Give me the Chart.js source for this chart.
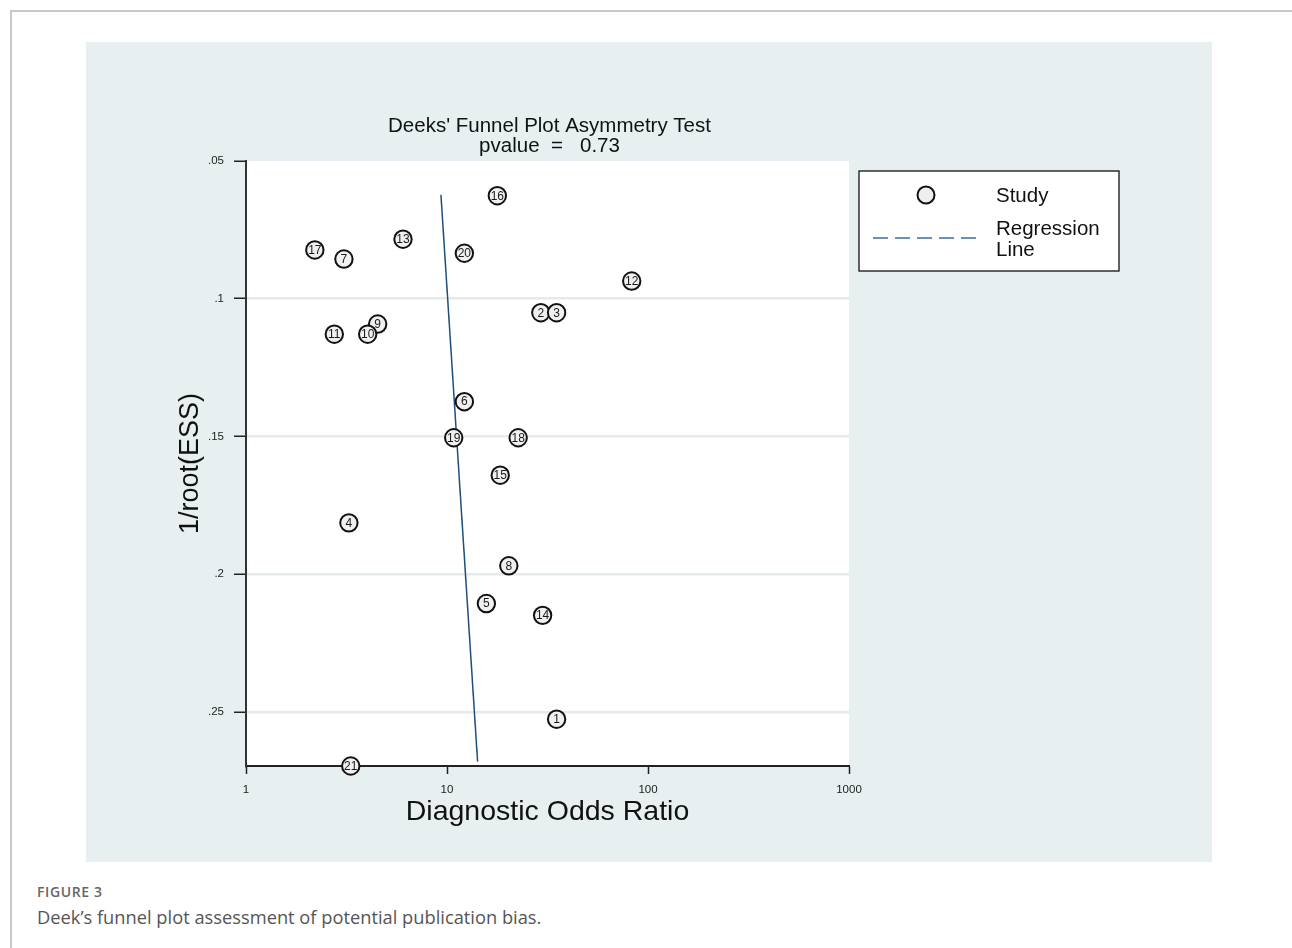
<!DOCTYPE html>
<html>
<head>
<meta charset="utf-8">
<script src="https://cdn.jsdelivr.net/npm/chart.js@4.4.1/dist/chart.umd.min.js"></script>
<style>
    body { margin: 0; background: #fff; width: 1292px; height: 948px; overflow: hidden; position: relative; }
    .card { position: absolute; left: 10px; top: 10px; width: 1400px; height: 1000px; border-top: 2px solid #c8c8c8; border-left: 2px solid #c8c8c8; }
    .panel { position: absolute; left: 86px; top: 42px; width: 1126px; height: 820px; background: #e8eff1; }
    .fig-label { position: absolute; left: 37px; top: 882px; font: 600 14px "Open Sans", sans-serif; letter-spacing: 0.6px; color: #666; }
    .fig-caption { position: absolute; left: 37px; top: 904px; font: 18.3px "Open Sans", sans-serif; color: #555; }
</style>
</head>
<body>
<div class="card"></div>
<div class="panel"><canvas id="funnel"></canvas></div>
<div class="fig-label">FIGURE 3</div>
<div class="fig-caption">Deek’s funnel plot assessment of potential publication bias.</div>

<script>
// study points
var studyIds = ["16", "17", "7", "13", "20", "12", "2", "3", "9", "11", "10", "6", "19", "18", "15", "4", "8", "5", "14", "1", "21"];
var oddsRatios = [17.8, 2.2, 3.07, 6.04, 12.2, 83, 29.3, 35.1, 4.52, 2.75, 4.03, 12.2, 10.8, 22.6, 18.4, 3.25, 20.3, 15.7, 29.9, 35.1, 3.32];
var invRootEss = [0.0626, 0.0823, 0.0856, 0.0784, 0.0835, 0.0936, 0.1051, 0.1051, 0.1092, 0.1129, 0.1129, 0.1374, 0.1505, 0.1505, 0.1641, 0.1814, 0.1970, 0.2107, 0.2150, 0.2527, 0.2697];

// regression line ends
var lineOdds = [9.33, 14.2];
var lineEss = [0.0623, 0.2681];

var yTicks = [0.05, 0.1, 0.15, 0.2, 0.25];
var xTicks = [1, 10, 100, 1000];

var titleLines = ["Deeks' Funnel Plot Asymmetry Test", "pvalue  =   0.73"];
var FONT = '"Liberation Sans", Arial, sans-serif';

var studyPoints = [];
for (var i = 0; i < studyIds.length; i++) {
    studyPoints.push({ x: oddsRatios[i], y: invRootEss[i] });
}
var regPoints = [];
for (var j = 0; j < lineOdds.length; j++) {
    regPoints.push({ x: lineOdds[j], y: lineEss[j] });
}

// white plot background
var plotBg = {
    id: "plotBg",
    beforeDraw: function (chart) {
        var a = chart.chartArea;
        var ctx = chart.ctx;
        ctx.save();
        ctx.fillStyle = "#ffffff";
        ctx.fillRect(a.left, a.top, a.right - a.left, a.bottom - a.top);
        ctx.restore();
    }
};

// numbers inside circles, title and the boxed legend
var extras = {
    id: "extras",
    afterDatasetsDraw: function (chart) {
        var ctx = chart.ctx;
        var meta = chart.getDatasetMeta(1);
        ctx.save();
        ctx.font = "12px " + FONT;
        ctx.fillStyle = "#1a1a1a";
        ctx.textAlign = "center";
        ctx.textBaseline = "middle";
        meta.data.forEach(function (pt, k) {
            ctx.fillText(studyIds[k], pt.x, pt.y + 0.5);
        });
        ctx.restore();
    },
    afterDraw: function (chart) {
        var ctx = chart.ctx;
        var a = chart.chartArea;
        var cx = (a.left + a.right) / 2;
        ctx.save();
        ctx.fillStyle = "#111";
        ctx.textAlign = "center";
        ctx.textBaseline = "middle";
        ctx.font = "20.5px " + FONT;
        ctx.fillText(titleLines[0], cx + 2, 84);
        ctx.fillText(titleLines[1], cx + 2, 104);

        // legend box
        var lx = 773, ly = 129, lw = 260, lh = 100;
        ctx.fillStyle = "#ffffff";
        ctx.fillRect(lx, ly, lw, lh);
        ctx.strokeStyle = "#111";
        ctx.lineWidth = 1.3;
        ctx.strokeRect(lx, ly, lw, lh);

        ctx.beginPath();
        ctx.arc(840, 153, 8.5, 0, Math.PI * 2);
        ctx.fillStyle = "#eeeeee";
        ctx.fill();
        ctx.lineWidth = 2;
        ctx.stroke();

        ctx.beginPath();
        ctx.setLineDash([15, 7]);
        ctx.strokeStyle = "#3d6e9c";
        ctx.lineWidth = 1.5;
        ctx.moveTo(787, 196);
        ctx.lineTo(892, 196);
        ctx.stroke();
        ctx.setLineDash([]);

        ctx.fillStyle = "#111";
        ctx.textAlign = "left";
        ctx.font = "20.5px " + FONT;
        ctx.fillText("Study", 910, 154);
        ctx.fillText("Regression", 910, 187);
        ctx.fillText("Line", 910, 208);
        ctx.restore();
    }
};

var ctx = document.getElementById("funnel").getContext("2d");
var chart = new Chart(ctx, {
    type: "scatter",
    data: {
        datasets: [{
            label: "Regression Line",
            type: "line",
            data: regPoints,
            borderColor: "#1f4f7d",
            borderWidth: 1.5,
            pointRadius: 0,
            fill: false,
            order: 2
        }, {
            label: "Study",
            data: studyPoints,
            pointRadius: 8.7,
            pointHoverRadius: 8.7,
            pointBackgroundColor: "#f0f0f0",
            pointBorderColor: "#111",
            pointBorderWidth: 2,
            clip: false,
            order: 1
        }]
    },
    plugins: [plotBg, extras],
    options: {
        responsive: true,
        maintainAspectRatio: false,
        animation: false,
        layout: { padding: { top: 119, right: 363, left: 0, bottom: 0 } },
        plugins: {
            legend: { display: false },
            tooltip: { enabled: false },
            title: { display: false }
        },
        scales: {
            x: {
                type: "logarithmic",
                min: 1,
                max: 1000,
                afterBuildTicks: function (scale) {
                    scale.ticks = xTicks.map(function (v) { return { value: v }; });
                },
                afterFit: function (scale) { scale.height = 96; },
                ticks: {
                    color: "#222",
                    font: { family: FONT, size: 11.5 },
                    padding: 9,
                    maxRotation: 0,
                    callback: function (v) { return String(v); }
                },
                grid: { drawOnChartArea: false, tickLength: 8, tickColor: "#222", tickWidth: 1.5 },
                border: { display: true, color: "#222", width: 2 },
                title: {
                    display: true,
                    text: "Diagnostic Odds Ratio",
                    color: "#111",
                    font: { family: FONT, size: 28.5 },
                    padding: { top: 33, bottom: 33 }
                }
            },
            y: {
                type: "linear",
                reverse: true,
                min: 0.05,
                max: 0.2697,
                afterBuildTicks: function (scale) {
                    scale.ticks = yTicks.map(function (v) { return { value: v }; });
                },
                afterFit: function (scale) { scale.width = 160; },
                ticks: {
                    color: "#222",
                    font: { family: FONT, size: 11.5 },
                    padding: 10,
                    callback: function (v) { return String(v).replace(/^0/, ""); }
                },
                grid: {
                    color: function (c) { return c.tick && c.tick.value === 0.05 ? "rgba(0,0,0,0)" : "#e3ebee"; },
                    lineWidth: 2.5,
                    tickLength: 12,
                    tickColor: "#222",
                    tickWidth: 1.5
                },
                border: { display: true, color: "#333", width: 2 },
                title: {
                    display: true,
                    text: "1/root(ESS)",
                    color: "#111",
                    font: { family: FONT, size: 27 },
                    padding: { top: 88, bottom: 88 }
                }
            }
        }
    }
});
</script>
</body>
</html>
